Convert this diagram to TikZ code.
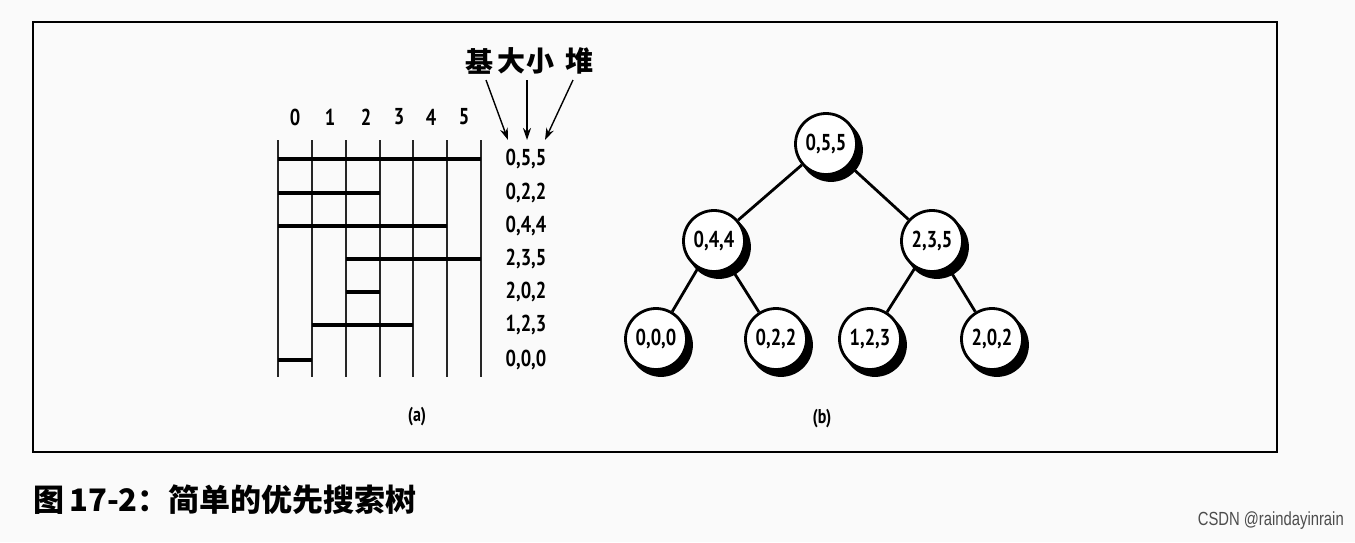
\documentclass[tikz,border=0pt]{standalone}
\usepackage{fontspec}
\setmainfont[FakeStretch=0.8]{PT Sans}
\newfontfamily\cjk{Noto Sans CJK SC}
\newfontfamily\wmfont[FakeStretch=0.78]{Liberation Sans}
\usetikzlibrary{arrows.meta,shadows}
\tikzset{
  gridline/.style={line width=1.7pt, black!85},
  bar/.style={line width=4.5pt, line cap=butt},
  num/.style={font=\bfseries\fontsize{23}{23}\selectfont, inner sep=0pt},
  lbl/.style={font=\bfseries\fontsize{23}{23}\selectfont, anchor=center, inner sep=0pt},
  hanzi/.style={font=\cjk\bfseries\fontsize{28}{28}\selectfont, inner sep=1pt},
  pointer/.style={line width=1.4pt, -{Stealth[length=12pt,width=8pt]}},
  tnode/.style={circle, draw, line width=2.8pt, fill=white, minimum size=61pt, inner sep=0pt,
    font=\bfseries\fontsize{23}{23}\selectfont,
    copy shadow={shadow xshift=5pt, shadow yshift=-6pt, fill=black, draw=black}},
  edge/.style={line width=2.8pt}
}
\begin{document}
\begin{tikzpicture}[x=1pt,y=-1pt]
\fill[black!2] (0,0) rectangle (1355,542);
\useasboundingbox (0,0) rectangle (1355,542);
\draw[line width=2pt] (33,22) rectangle (1277,452);

% grid (a)
\foreach \i/\x in {0/278,1/312,2/346,3/380,4/413,5/447,6/481}{
  \draw[gridline] (\x,140) -- (\x,377);
}
\foreach \i/\x in {0/295,1/330,2/366,3/399,4/431,5/464}{
  \node[num] (c\i) at (\x,117) {\i};
}
% bars
\draw[bar] (278,159) -- (481,159);
\draw[bar] (278,193) -- (380,193);
\draw[bar] (278,226) -- (447,226);
\draw[bar] (346,259) -- (481,259);
\draw[bar] (346,292) -- (380,292);
\draw[bar] (312,325) -- (413,325);
\draw[bar] (278,360) -- (312,360);

\node[lbl] (r1) at (526,159) {0,5,5};
\node[lbl] (r2) at (526,193) {0,2,2};
\node[lbl] (r3) at (526,226) {0,4,4};
\node[lbl] (r4) at (526,259) {2,3,5};
\node[lbl] (r5) at (526,292) {2,0,2};
\node[lbl] (r6) at (526,325) {1,2,3};
\node[lbl] (r7) at (526,360) {0,0,0};

\node[hanzi] (ji) at (479,61) {基};
\node[hanzi] (da) at (511,61) {大};
\node[hanzi] (xiao) at (540,61) {小};
\node[hanzi] (dui) at (579,61) {堆};
\coordinate (t1) at (508,140);
\coordinate (t2) at (527,140);
\coordinate (t3) at (545,140);
\draw[pointer] (486,80) -- (t1);
\draw[pointer] (527,80) -- (t2);
\draw[pointer] (573,80) -- (t3);

\node[font=\bfseries\fontsize{20}{20}\selectfont] (la) at (417,417) {(a)};

% tree (b)
\node[tnode] (n055) at (826,144) {0,5,5};
\node[tnode] (n044) at (714,241) {0,4,4};
\node[tnode] (n235) at (932,241) {2,3,5};
\node[tnode] (n000) at (656,339) {0,0,0};
\node[tnode] (n022) at (776,339) {0,2,2};
\node[tnode] (n123) at (870,339) {1,2,3};
\node[tnode] (n202) at (992,339) {2,0,2};
\draw[edge] (n055) -- (n044);
\draw[edge] (n055) -- (n235);
\draw[edge] (n044) -- (n000);
\draw[edge] (n044) -- (n022);
\draw[edge] (n235) -- (n123);
\draw[edge] (n235) -- (n202);

\node[font=\bfseries\fontsize{20}{20}\selectfont] (lb) at (822,419) {(b)};

% caption
\node[anchor=west, inner sep=0pt, font=\cjk\bfseries\fontsize{31}{31}\selectfont] (cap) at (33,500) {图\,17-2：简单的优先搜索树};
\node[anchor=east, inner sep=0pt, text=black!70, font=\wmfont\fontsize{19}{19}\selectfont] (wm) at (1344,521) {CSDN @raindayinrain};
\end{tikzpicture}
\end{document}
